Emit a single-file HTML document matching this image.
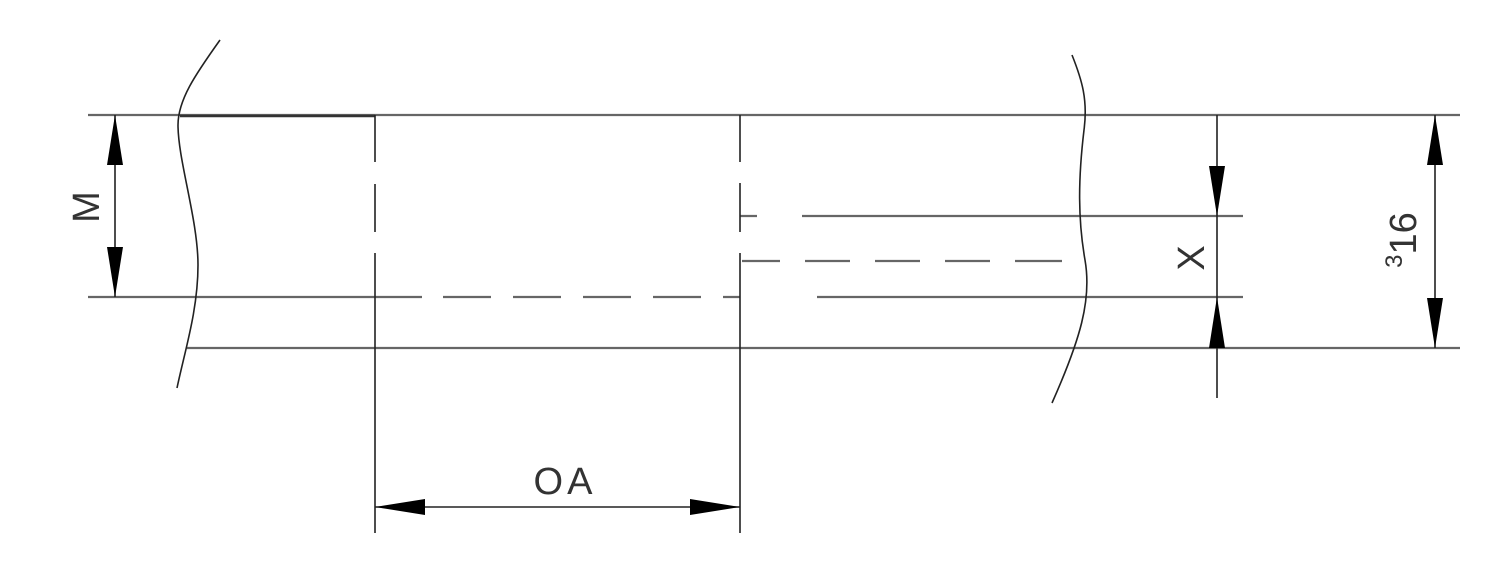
<!DOCTYPE html>
<html><head><style>body{margin:0;background:#fff}svg{display:block}</style></head><body>
<svg width="1500" height="573" viewBox="0 0 1500 573" xmlns="http://www.w3.org/2000/svg" font-family="Liberation Sans, sans-serif">
<g stroke="#666" stroke-width="2.2" fill="none">
<line x1="88" y1="115" x2="1460" y2="115"/>
<line x1="88" y1="297" x2="422" y2="297"/>
<line x1="443" y1="297" x2="740" y2="297" stroke-dasharray="48 22"/>
<line x1="187" y1="348" x2="1460" y2="348"/>
<line x1="740" y1="216" x2="757" y2="216"/>
<line x1="802" y1="216" x2="1243" y2="216"/>
<line x1="742" y1="261" x2="1062" y2="261" stroke-dasharray="38 25 45 25 45 25 45 25 47"/>
<line x1="817" y1="297" x2="1243" y2="297"/>
</g>
<line x1="180" y1="116" x2="375" y2="116" stroke="#333" stroke-width="2.4"/>
<g stroke="#222" stroke-width="1.6" fill="none">
<line x1="375" y1="115" x2="375" y2="162"/><line x1="375" y1="184" x2="375" y2="232"/><line x1="375" y1="253" x2="375" y2="533"/>
<line x1="740" y1="115" x2="740" y2="162"/><line x1="740" y1="183" x2="740" y2="232"/><line x1="740" y1="253" x2="740" y2="533"/>
<path d="M220 40 C195 75 178 100 178 125 C178 160 198 220 198 265 C198 310 185 350 177 388"/>
<path d="M1072 55 C1082 80 1088 100 1084 130 C1078 180 1078 220 1085 260 C1092 300 1080 340 1052 403"/>
<line x1="115" y1="115" x2="115" y2="297"/>
<line x1="1217" y1="115" x2="1217" y2="398"/>
<line x1="1435" y1="115" x2="1435" y2="348"/>
<line x1="375" y1="507" x2="740" y2="507"/>
</g>
<g fill="#000">
<polygon points="115,115 107,165 123,165"/><polygon points="115,297 107,247 123,247"/>
<polygon points="1217,216 1209,166 1225,166"/><polygon points="1217,297 1209,348 1225,348"/>
<polygon points="1435,115 1427,165 1443,165"/><polygon points="1435,348 1427,298 1443,298"/>
<polygon points="375,507 425,499 425,515"/><polygon points="740,507 690,499 690,515"/>
</g>
<g fill="#333" font-size="38">
<text transform="translate(99,207) rotate(-90)" text-anchor="middle">M</text>
<text transform="translate(1204,258) rotate(-90)" text-anchor="middle">X</text>
<text transform="translate(1416,240) rotate(-90)" text-anchor="middle"><tspan font-size="24" dy="-14">3</tspan><tspan dy="14">16</tspan></text>
<text x="565" y="494" text-anchor="middle" letter-spacing="4">OA</text>
</g>
</svg>
</body></html>
